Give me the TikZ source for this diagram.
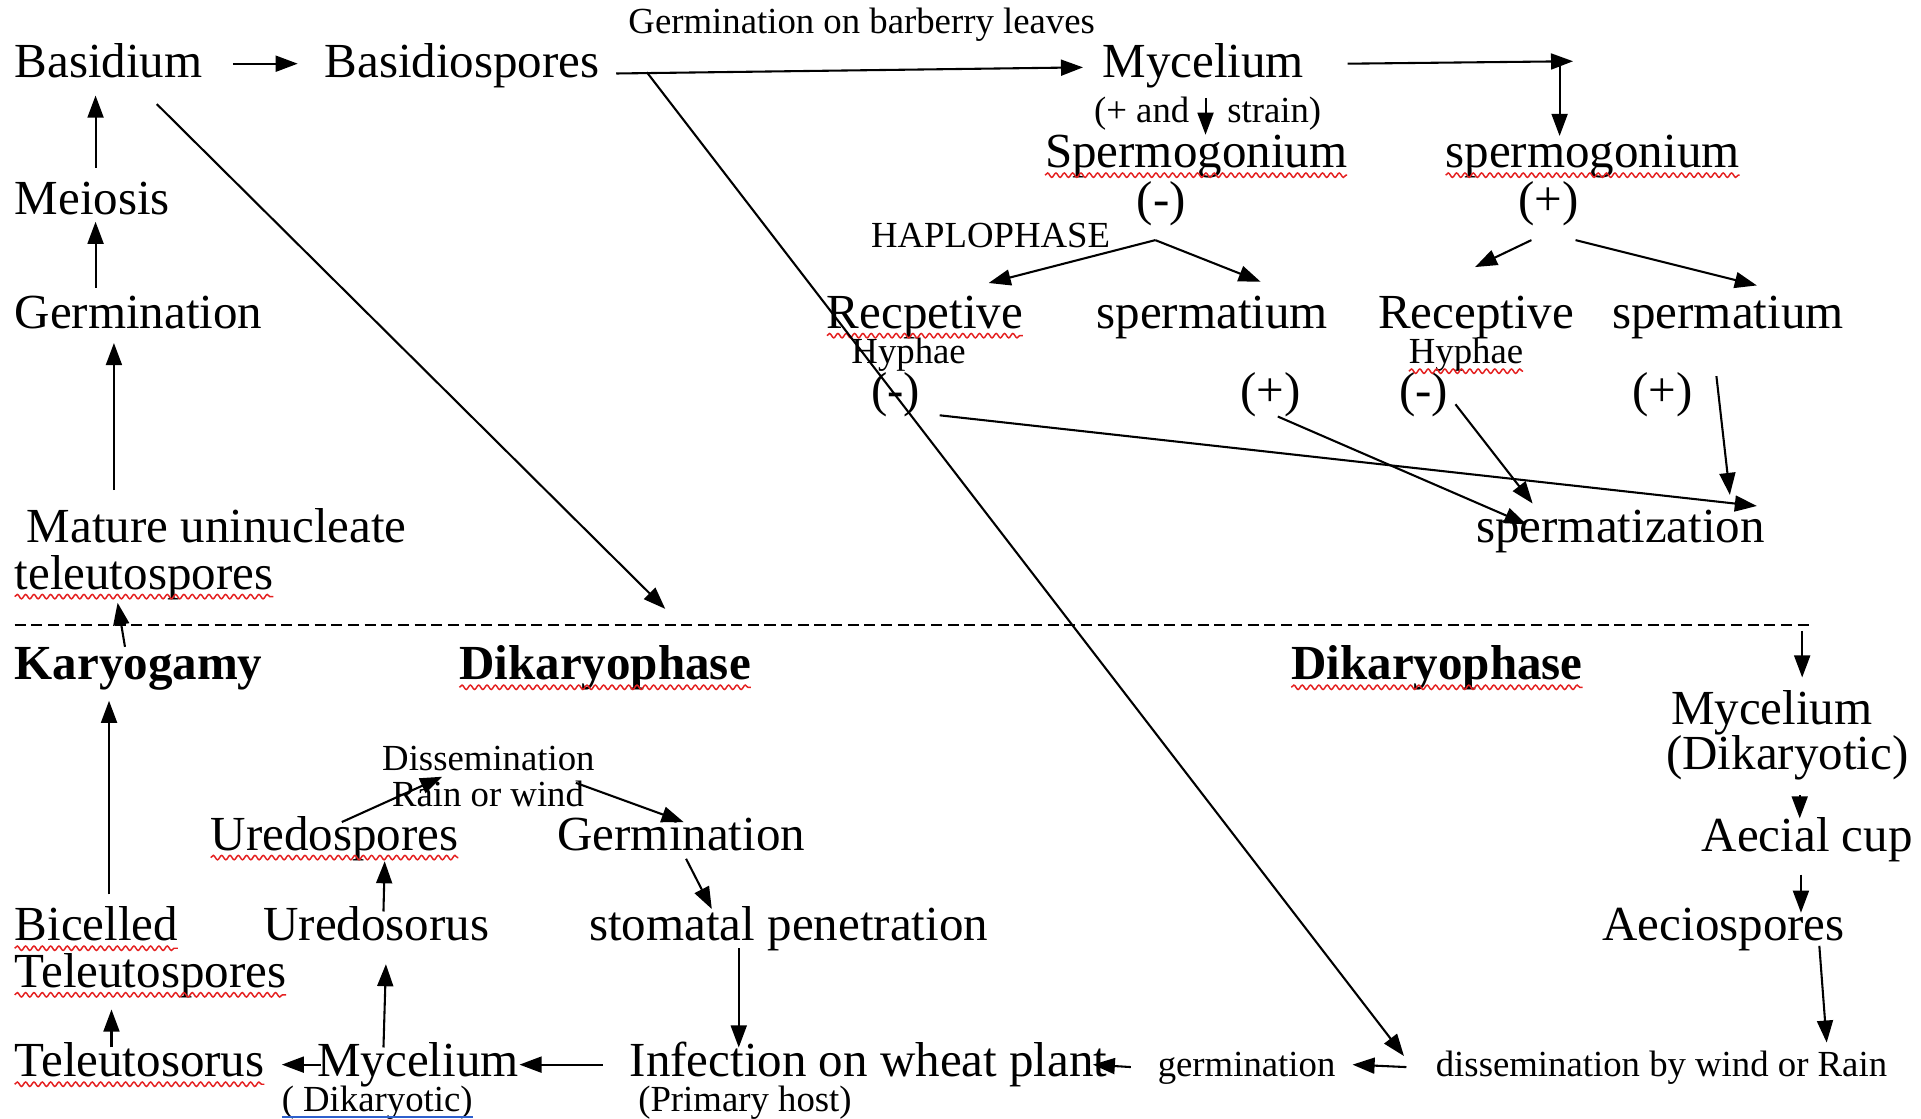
\documentclass[tikz,border=0pt]{standalone}
\usepackage{fontspec}
\setmainfont{Liberation Serif}
\usetikzlibrary{arrows.meta,decorations.pathmorphing}
\definecolor{spell}{RGB}{228,32,32}
\definecolor{linkblue}{RGB}{45,95,205}
\newcommand\wavyline[1]{\draw[wavy] ([yshift=-3pt]#1.base west) -- ([yshift=-3pt]#1.base east);}
\begin{document}
\begin{tikzpicture}[x=0.5pt,y=-0.5pt,
  big/.style={font=\fontsize{20}{24}\selectfont, inner sep=0pt, outer sep=0pt, anchor=base west},
  bigc/.style={big, anchor=base},
  bigb/.style={big, font=\fontsize{20}{24}\selectfont\bfseries},
  sm/.style={font=\fontsize{15}{18}\selectfont, inner sep=0pt, outer sep=0pt, anchor=base west},
  arr/.style={-{Triangle[length=9pt,width=6.5pt]}, line width=0.85pt},
  wavy/.style={draw=spell, line width=0.6pt, decorate, decoration={snake, amplitude=0.9pt, segment length=3.4pt}},
  dashline/.style={line width=1pt, dash pattern=on 4.5pt off 2.3pt}
]
\useasboundingbox (0,0) rectangle (1568,913);

% ---------- top (haplophase) ----------
\node[sm] (gob) at (513,27) {Germination on barberry leaves};
\node[big] (basidium) at (12,63) {Basidium};
\node[big] (basidiospores) at (265,63) {Basidiospores};
\node[big] (myc1) at (900,63) {Mycelium};
\node[sm] (strain) at (893,100) {(+ and\hspace{15.5pt}strain)};
\node[big] (spermo1) at (853,137) {Spermogonium};
\node[bigc] (minus1) at (948,176) {(-)};
\node[big] (spermo2) at (1180,137) {spermogonium};
\node[bigc] (plus1) at (1264,176) {(+)};
\node[sm] (haplo) at (711,202) {HAPLOPHASE};
\node[big] (recep1) at (675,268) {Recpetive};
\node[big] (sperm1) at (895,268) {spermatium};
\node[big] (recep2) at (1125,268) {Receptive};
\node[big] (sperm2) at (1316,268) {spermatium};
\node[sm] (hyph1) at (695,297) {Hyphae};
\node[sm] (hyph2) at (1150,297) {Hyphae};
\node[bigc] (m1) at (731,332) {(-)};
\node[bigc] (p1) at (1037,332) {(+)};
\node[bigc] (m2) at (1162,332) {(-)};
\node[bigc] (p2) at (1357,332) {(+)};
\node[big] (spermatization) at (1205,443) {spermatization};

\node[big] (meiosis) at (12,175) {Meiosis};
\node[big] (germ1) at (12,268) {Germination};
\node[big] (mature) at (22,443) {Mature uninucleate};
\node[big] (teleuto1) at (12,481) {teleutospores};

% ---------- divider ----------
\coordinate (dashL) at (12,510);
\coordinate (dashR) at (1477,510);
\draw[dashline] (dashL) -- (dashR);

% ---------- bottom (dikaryophase) ----------
\node[bigb] (karyogamy) at (12,555) {Karyogamy};
\node[bigb] (dik1) at (375,555) {Dikaryophase};
\node[bigb] (dik2) at (1054,555) {Dikaryophase};
\node[big] (myc2) at (1364,591) {Mycelium};
\node[big] (dikaryotic) at (1360,628) {(Dikaryotic)};
\node[big] (aecial) at (1389,695) {Aecial cup};
\node[big] (aecio) at (1308,768) {Aeciospores};
\node[sm] (dissem) at (312,629) {Dissemination};
\node[sm] (rain) at (320,658) {Rain or wind};
\node[big] (uredospores) at (172,694) {Uredospores};
\node[big] (germ2) at (455,694) {Germination};
\node[big] (bicelled) at (12,768) {Bicelled};
\node[big] (teleuto2) at (12,806) {Teleutospores};
\node[big] (uredosorus) at (215,768) {Uredosorus};
\node[big] (stomatal) at (481,768) {stomatal penetration};
\node[big] (teleutosorus) at (12,879) {Teleutosorus};
\node[big] (myc3) at (259,879) {Mycelium};
\node[big] (infection) at (514,879) {Infection on wheat plant};
\node[sm] (germ3) at (945,879) {germination};
\node[sm] (dissbw) at (1172,879) {dissemination by wind or Rain};
\node[sm] (dik3) at (230,907) {( Dikaryotic)};
\node[sm] (primary) at (521,907) {(Primary host)};

% ---------- spelling underlines ----------
\wavyline{spermo1}
\wavyline{spermo2}
\wavyline{recep1}
\wavyline{hyph2}
\wavyline{teleuto1}
\wavyline{dik1}
\wavyline{dik2}
\wavyline{uredospores}
\wavyline{bicelled}
\wavyline{teleuto2}
\wavyline{teleutosorus}
\draw[linkblue, line width=0.7pt] ([yshift=-2.5pt]dik3.base west) -- ([yshift=-2.5pt]dik3.base east);

% ---------- connectors: haplophase ----------
\draw[arr] ([shift={(178,-11)}]basidium.base west) -- ([shift={(-22,-11)}]basidiospores.base west);
\draw[arr] ([shift={(238,-3)}]basidiospores.base west) -- ([shift={(-16,-8)}]myc1.base west);
\draw[arr] ([shift={(263,-4)}]basidiospores.base west) -- ([shift={(-26,-17)}]dissbw.base west);
\coordinate (corner) at (1284,50);
\draw[arr] ([shift={(200,-11)}]myc1.base west) -- (corner);
\draw[arr] ([shift={(-11,1)}]corner) -- ([shift={(93,-26)}]spermo2.base west);
\draw[arr] ([shift={(84,17)}]myc1.base west) -- ([shift={(131,-27)}]spermo1.base west);
\coordinate (fork1) at ([shift={(-5,20)}]minus1.base);
\draw[arr] (fork1) -- ([shift={(132,-37)}]recep1.base west);
\draw[arr] (fork1) -- ([shift={(134,-38)}]sperm1.base west);
\draw[arr] ([shift={(-14,20)}]plus1.base) -- ([shift={(79,-50)}]recep2.base west);
\draw[arr] ([shift={(22,20)}]plus1.base) -- ([shift={(118,-35)}]sperm2.base west);
\draw[arr] ([shift={(36,7)}]m1.base) -- ([shift={(229,-30)}]spermatization.base west);
\draw[arr] ([shift={(6,8)}]p1.base) -- ([shift={(41,-15)}]spermatization.base west);
\draw[arr] ([shift={(26,-2)}]m2.base) -- ([shift={(46,-32)}]spermatization.base west);
\draw[arr] ([shift={(85,39)}]sperm2.base west) -- ([shift={(207,-39)}]spermatization.base west);
\draw[arr] ([shift={(66,-38)}]meiosis.base west) -- ([shift={(66,15)}]basidium.base west);
\draw[arr] ([shift={(66,-33)}]germ1.base west) -- ([shift={(66,6)}]meiosis.base west);
\draw[arr] ([shift={(71,-43)}]mature.base west) -- ([shift={(81,12)}]germ1.base west);
\draw[arr] ([shift={(116,22)}]basidium.base west) -- ([shift={(168,-58)}]dik1.base west);

% ---------- connectors: dikaryophase ----------
\draw[arr] ([shift={(90,-27)}]karyogamy.base west) -- ([shift={(84,11)}]teleuto1.base west);
\draw[arr] ([shift={(77,-38)}]bicelled.base west) -- ([shift={(77,17)}]karyogamy.base west);
\draw[arr] ([shift={(79,-24)}]teleutosorus.base west) -- ([shift={(79,18)}]teleuto2.base west);
\draw[arr] ([shift={(3,-10)}]myc3.base west) -- ([shift={(218,-10)}]teleutosorus.base west);
\draw[arr] ([shift={(-22,-10)}]infection.base west) -- ([shift={(165,-10)}]myc3.base west);
\draw[arr] ([shift={(122,6)}]stomatal.base west) -- ([shift={(89,-24)}]infection.base west);
\draw[arr] ([shift={(105,7)}]germ2.base west) -- ([shift={(100,-26)}]stomatal.base west);
\draw[arr] ([shift={(98,-24)}]uredosorus.base west) -- ([shift={(142,9)}]uredospores.base west);
\draw[arr] ([shift={(54,-24)}]myc3.base west) -- ([shift={(100,19)}]uredosorus.base west);
\draw[arr] ([shift={(107,-23)}]uredospores.base west) -- ([shift={(49,5)}]dissem.base west);
\draw[arr] ([shift={(150,-19)}]rain.base west) -- ([shift={(103,-23)}]germ2.base west);
\draw[arr] ([shift={(-6,5)}]dashR) -- ([shift={(107,-38)}]myc2.base west);
\draw[arr] ([shift={(109,21)}]dikaryotic.base west) -- ([shift={(80,-27)}]aecial.base west);
\draw[arr] ([shift={(81,19)}]aecial.base west) -- ([shift={(162,-23)}]aecio.base west);
\draw[arr] ([shift={(177,4)}]aecio.base west) -- ([shift={(319,-28)}]dissbw.base west);
\draw[arr] ([shift={(-24,-8)}]dissbw.base west) -- ([shift={(159,-10)}]germ3.base west);
\draw[arr] ([shift={(-22,-8)}]germ3.base west) -- ([shift={(378,-10)}]infection.base west);
\end{tikzpicture}
\end{document}
